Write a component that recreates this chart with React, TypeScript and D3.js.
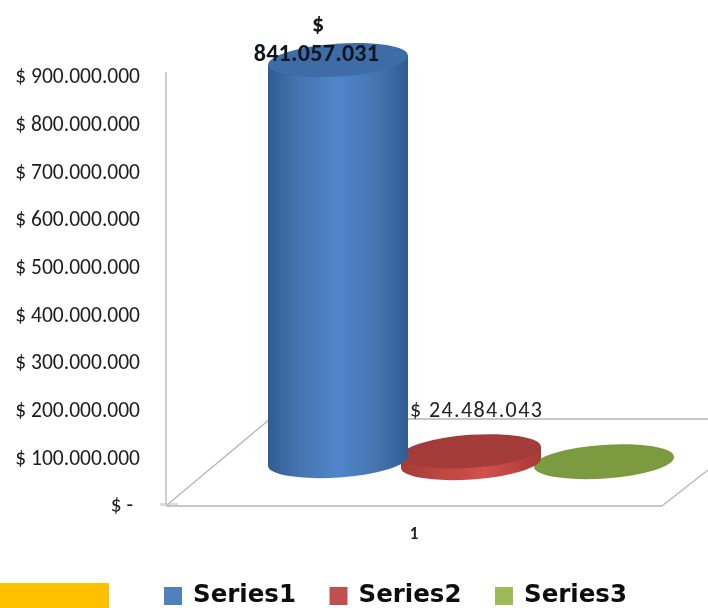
import React from "react";
import * as d3 from "d3";

const seriesNames = ["Series1", "Series2", "Series3"];
const seriesValues = [841057031, 24484043, 1200000];
const valueLabels = ["841.057.031", "$ 24.484.043", ""];
const tickValues = [0, 100000000, 200000000, 300000000, 400000000, 500000000, 600000000, 700000000, 800000000, 900000000];
const category = "1";
const sideColors = ["url(#blueSide)", "url(#redSide)", "#7f9a3e"];
const topColors = ["#3c6ca6", "#a33a38", "#7b9a3f"];
const legendColors = ["#4f81bd", "#c0504d", "#9bbb59"];

const W = 708;
const H = 608;
const font = "Carlito, Lato, 'Open Sans', sans-serif";

const y = d3.scaleLinear().domain([0, 900000000]).range([505, 76]);
const x = d3.scalePoint<string>().domain(seriesNames).range([338, 604]);
const legendX = d3.scalePoint<string>().domain(seriesNames).range([164, 495]);
const floorShift = 44;
const rx = 70;
const ry = 16.5;
const tilt = -4;
const fmt = (v: number) =>
  v === 0 ? "$ -" : "$ " + d3.format(",")(v).replace(/,/g, ".");

export default function App() {
  const gridStroke = "#b5b5b5";
  return (
    <svg
      width={W}
      height={H}
      viewBox={`0 0 ${W} ${H}`}
      style={{ position: "absolute", left: 0, top: 0, background: "#fff" }}
    >
      <defs>
        <linearGradient id="blueSide" x1="0" x2="1" y1="0" y2="0">
          <stop offset="0" stopColor="#2f5c92" />
          <stop offset="0.22" stopColor="#4674b0" />
          <stop offset="0.5" stopColor="#5085ca" />
          <stop offset="0.78" stopColor="#4674b0" />
          <stop offset="1" stopColor="#2f5c92" />
        </linearGradient>
        <linearGradient id="redSide" x1="0" x2="1" y1="0" y2="0">
          <stop offset="0" stopColor="#a83c38" />
          <stop offset="0.6" stopColor="#d2514c" />
          <stop offset="1" stopColor="#a63a37" />
        </linearGradient>
        <filter id="soft" x="-5%" y="-5%" width="110%" height="110%">
          <feGaussianBlur stdDeviation="0.7" />
        </filter>
        <filter id="softText" x="-5%" y="-20%" width="110%" height="140%">
          <feGaussianBlur stdDeviation="0.35" />
        </filter>
      </defs>

      {/* walls and floor */}
      <g stroke={gridStroke} strokeWidth={1.3} fill="none">
        <line x1={166} y1={y(900000000) - 4} x2={166} y2={y(0)} />
        <line x1={166} y1={y(0) + 1} x2={662} y2={y(0) + 1} />
        <line x1={167} y1={y(0)} x2={270} y2={y(0) - 86} />
        <line x1={662} y1={y(0) + 1} x2={708} y2={y(0) - 35} />
        <line x1={395} y1={y(0) - 86} x2={708} y2={y(0) - 86} />
      </g>
      <rect x={160} y={503} width={18} height={3} fill="#c4c4c4" opacity={0.6} />

      {/* axis labels */}
      <g fontFamily={font} fontSize={21.5} fill="#1c1c1c" textAnchor="end" filter="url(#softText)">
        {tickValues.map((t) => (
          <text key={t} x={t === 0 ? 133 : 140} y={y(t)} dy="0.34em">
            {fmt(t)}
          </text>
        ))}
      </g>

      {/* cylinders */}
      <g filter="url(#soft)">
        {seriesNames
          .map((name, i) => ({ name, i, value: seriesValues[i] }))
          .reverse()
          .map(({ name, i, value }) => {
            const cx = x(name)!;
            const by = y(0) - floorShift + (i === 2 ? 1 : i === 1 ? 2 : 0);
            const ty = y(value) - floorShift + (i === 2 ? 1 : i === 1 ? 2 : 0);
            const dy = Math.sin((tilt * Math.PI) / 180) * rx;
            const side =
              `M${cx - rx},${ty - dy}` +
              `L${cx - rx},${by - dy}` +
              `A${rx},${ry} ${tilt} 0 0 ${cx + rx},${by + dy}` +
              `L${cx + rx},${ty + dy}Z`;
            return (
              <g key={name}>
                <path d={side} fill={sideColors[i]} />
                <ellipse
                  cx={cx}
                  cy={ty}
                  rx={rx}
                  ry={ry}
                  fill={topColors[i]}
                  transform={`rotate(${tilt} ${cx} ${ty})`}
                />
              </g>
            );
          })}
      </g>

      {/* data labels */}
      <g fontFamily={font} fill="#141414" filter="url(#softText)">
        <text x={318} y={32} fontSize={24} fontWeight={700} textAnchor="middle">$</text>
        <text x={316.5} y={61} fontSize={24} letterSpacing={0.3} fontWeight={700} textAnchor="middle" fill="#10161f">
          {valueLabels[0]}
        </text>
        <text x={410} y={417} fontSize={22} letterSpacing={1.4} fill="#222">
          {valueLabels[1]}
        </text>
      </g>

      {/* category */}
      <text x={414} y={533} dy="0.34em" fontFamily={font} fontSize={17} fontWeight={700} fill="#222" textAnchor="middle" filter="url(#softText)">
        {category}
      </text>

      {/* orange block */}
      <rect x={0} y={583} width={109} height={25} fill="#ffc000" />

      {/* legend */}
      <g fontFamily="'DejaVu Sans', sans-serif" fontSize={24.5} fontWeight={700} fill="#111" filter="url(#softText)">
        {seriesNames.map((name, i) => (
          <g key={name}>
            <rect
              x={legendX(name)!}
              y={587}
              width={18}
              height={18}
              fill={legendColors[i]}
            />
            <text x={legendX(name)! + 29} y={602}>{name}</text>
          </g>
        ))}
      </g>
    </svg>
  );
}
